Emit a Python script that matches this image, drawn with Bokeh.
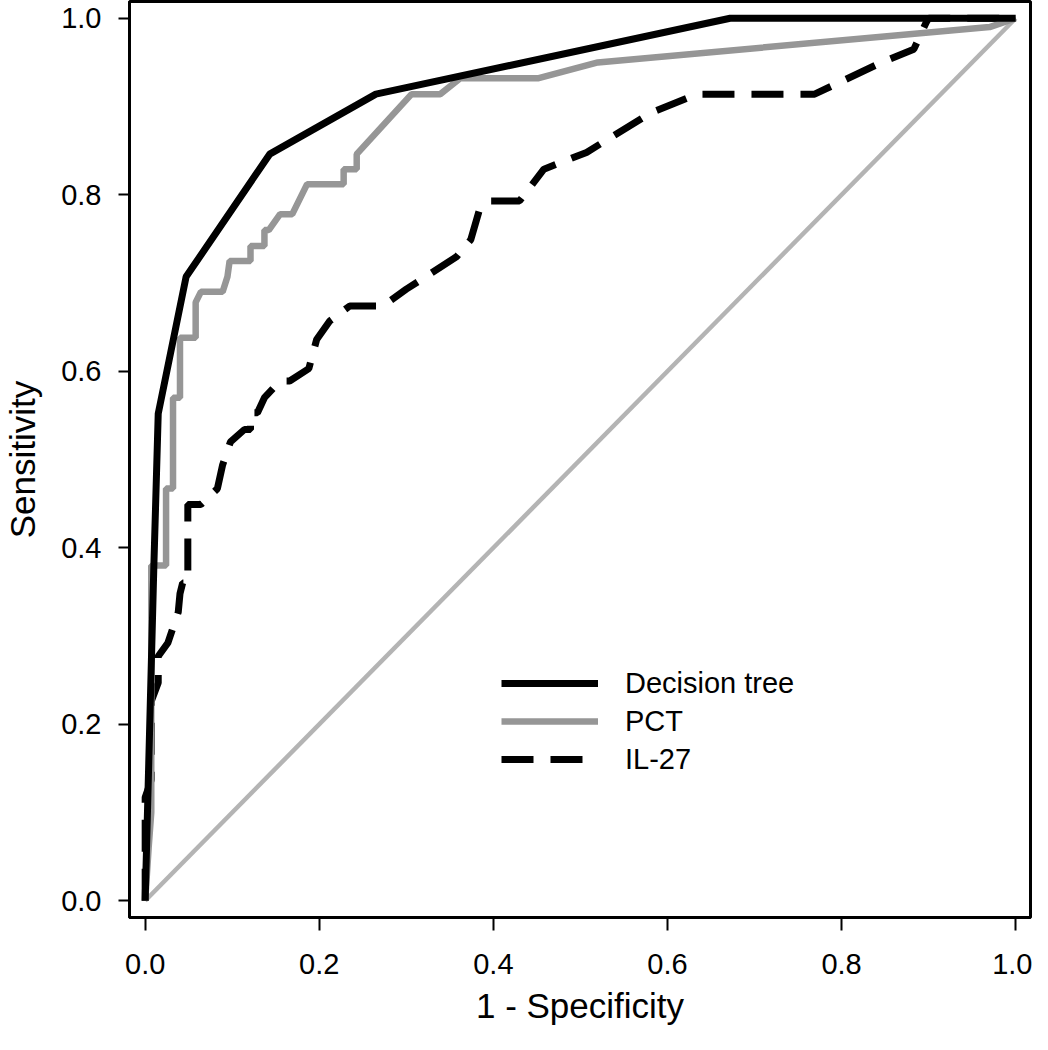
from bokeh.plotting import figure
from bokeh.models import Range1d, FixedTicker, Legend, LegendItem
from bokeh.embed import file_html
from bokeh.resources import INLINE

# ---- data ----
tick_values = [0.0, 0.2, 0.4, 0.6, 0.8, 1.0]
tick_labels = ["0.0", "0.2", "0.4", "0.6", "0.8", "1.0"]

dt_fpr = [0.0, 0.005, 0.010, 0.015, 0.047, 0.143, 0.265, 0.672, 1.0]
dt_tpr = [0.0, 0.19, 0.38, 0.552, 0.707, 0.846, 0.914, 1.0, 1.0]

pct_fpr = [0.0, 0.004, 0.007, 0.007, 0.024, 0.024, 0.032, 0.032, 0.040, 0.040,
           0.058, 0.058, 0.064, 0.089, 0.0945, 0.097, 0.121, 0.121, 0.137, 0.137,
           0.142, 0.155, 0.169, 0.186, 0.228, 0.228, 0.243, 0.243, 0.306, 0.339,
           0.362, 0.451, 0.52, 0.97, 1.0]
pct_tpr = [0.0, 0.06, 0.10, 0.38, 0.38, 0.467, 0.467, 0.570, 0.570, 0.638,
           0.638, 0.678, 0.690, 0.690, 0.707, 0.725, 0.725, 0.742, 0.742, 0.760,
           0.760, 0.778, 0.778, 0.812, 0.812, 0.829, 0.829, 0.846, 0.914, 0.914,
           0.932, 0.932, 0.950, 0.990, 1.0]

il_fpr = [0.0, 0.0, 0.007, 0.007, 0.015, 0.015, 0.026, 0.038, 0.040, 0.043,
          0.049, 0.049, 0.064, 0.083, 0.089, 0.098, 0.114, 0.121, 0.121, 0.129,
          0.137, 0.155, 0.166, 0.188, 0.197, 0.212, 0.235, 0.273, 0.300, 0.358,
          0.374, 0.384, 0.395, 0.430, 0.458, 0.507, 0.581, 0.634, 0.769, 0.846,
          0.883, 0.897, 0.900, 1.0]
il_tpr = [0.0, 0.117, 0.137, 0.226, 0.247, 0.277, 0.292, 0.327, 0.348, 0.360,
          0.360, 0.449, 0.449, 0.467, 0.494, 0.520, 0.534, 0.534, 0.553, 0.553,
          0.570, 0.589, 0.589, 0.603, 0.636, 0.657, 0.674, 0.674, 0.693, 0.730,
          0.749, 0.783, 0.793, 0.793, 0.829, 0.848, 0.893, 0.914, 0.914, 0.950,
          0.965, 0.995, 1.0, 1.0]

ref_x = [0.0, 1.0]
ref_y = [0.0, 1.0]

series_names = ["Decision tree", "PCT", "IL-27"]

FONT = "Liberation Sans"

p = figure(width=1032, height=1040, output_backend="svg", toolbar_location=None,
           x_range=Range1d(-0.018, 1.017), y_range=Range1d(-0.019, 1.019),
           min_border_left=123, min_border_right=2, min_border_top=1,
           min_border_bottom=123)
p.grid.visible = False
p.outline_line_color = "black"
p.outline_line_width = 3
p.background_fill_color = "white"
p.border_fill_color = "white"

for ax in (p.xaxis, p.yaxis):
    ax.ticker = FixedTicker(ticks=tick_values)
    ax.major_label_overrides = {v: l for v, l in zip(tick_values, tick_labels)}
    ax.minor_tick_line_color = None
    ax.major_tick_in = 0
    ax.major_tick_line_color = "black"
    ax.major_tick_line_width = 2
    ax.axis_line_color = "black"
    ax.axis_line_width = 3
    ax.major_label_text_font = FONT
    ax.major_label_text_font_size = "29px"
    ax.major_label_text_color = "black"
    ax.axis_label_text_font = FONT
    ax.axis_label_text_font_size = "35px"
    ax.axis_label_text_font_style = "normal"
    ax.axis_label_text_color = "black"

p.xaxis.major_tick_out = 13
p.yaxis.major_tick_out = 11
p.xaxis.major_label_standoff = 23
p.yaxis.major_label_standoff = 17
p.xaxis.axis_label = "1 - Specificity"
p.yaxis.axis_label = "Sensitivity"
p.xaxis.axis_label_standoff = 9
p.yaxis.axis_label_standoff = 16

# diagonal reference line
p.line(ref_x, ref_y, line_color="#b4b4b4", line_width=4.5)

r_il = p.line(il_fpr, il_tpr, line_color="black", line_width=7, line_dash="32 17")
r_pct = p.line(pct_fpr, pct_tpr, line_color="#969696", line_width=6.5)
r_dt = p.line(dt_fpr, dt_tpr, line_color="black", line_width=7)

legend = Legend(items=[LegendItem(label=series_names[0], renderers=[r_dt]),
                       LegendItem(label=series_names[1], renderers=[r_pct]),
                       LegendItem(label=series_names[2], renderers=[r_il])],
                location=(372, 139), orientation="vertical",
                glyph_width=97, glyph_height=38, label_height=38,
                label_standoff=27, spacing=0, padding=0, margin=0,
                border_line_color=None, background_fill_alpha=0,
                label_text_font=FONT, label_text_font_size="29px",
                label_text_color="black")
p.add_layout(legend, "center")

open("out.html", "w").write(file_html(p, INLINE))
